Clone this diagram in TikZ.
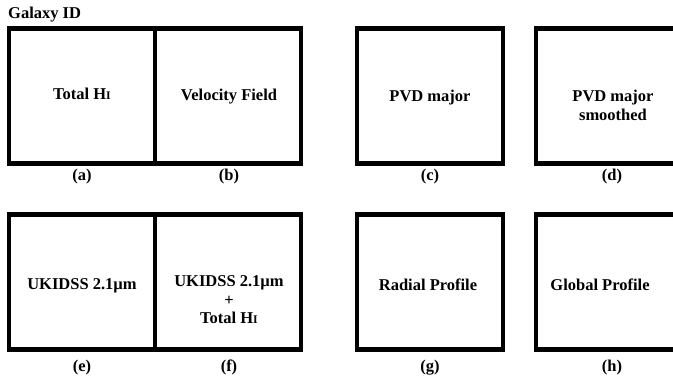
\documentclass[tikz,border=0pt]{standalone}
\usepackage{fontspec}
\setmainfont{Liberation Serif}
\newcommand{\HIline}{H{\fontsize{11.7}{12}\selectfont I}}

\tikzset{
  panel/.style={draw, line width=4.6pt, minimum width=146pt, minimum height=135pt, inner sep=0pt},
  paneltext/.style={anchor=base, align=center, inner sep=0pt},
}

\begin{document}
\begin{tikzpicture}[x=1pt,y=-1pt,font=\fontsize{16.5}{18.5}\selectfont\bfseries]
  \useasboundingbox (0,0) rectangle (673,379);
  \clip (0,0) rectangle (673,379);
  % the eight panels
  \foreach \n/\x/\y in {a/82/96, b/228/96, c/430/96, d/609/96, e/82/282, f/228/282, g/430/282, h/609/282} {
    \node[panel] (\n) at (\x,\y) {};
  }
  \node[anchor=base west, inner sep=0pt] (galaxy) at (8,18.5) {Galaxy ID};
  % panel contents (base = last line)
  \node[paneltext] (ta) at (82,100) {Total \HIline};
  \node[paneltext] (tb) at (229,101) {Velocity Field};
  \node[paneltext] (tc) at (430,101.5) {PVD major};
  \node[paneltext] (td) at (613,120.5) {PVD major\\smoothed};
  \node[paneltext] (te) at (82,290) {UKIDSS 2.1µm};
  \node[paneltext] (tf) at (229,324) {UKIDSS 2.1µm\\+\\Total \HIline};
  \node[paneltext] (tg) at (428,291) {Radial Profile};
  \node[paneltext] (th) at (600,291) {Global Profile};
  % captions
  \foreach \n/\x/\y in {a/82/181, b/229/181, c/430/181, d/612/181, e/82/372, f/229/372, g/430/372, h/612/372} {
    \node[anchor=base, inner sep=0pt] (cap-\n) at (\x,\y) {(\n)};
  }
\end{tikzpicture}
\end{document}
